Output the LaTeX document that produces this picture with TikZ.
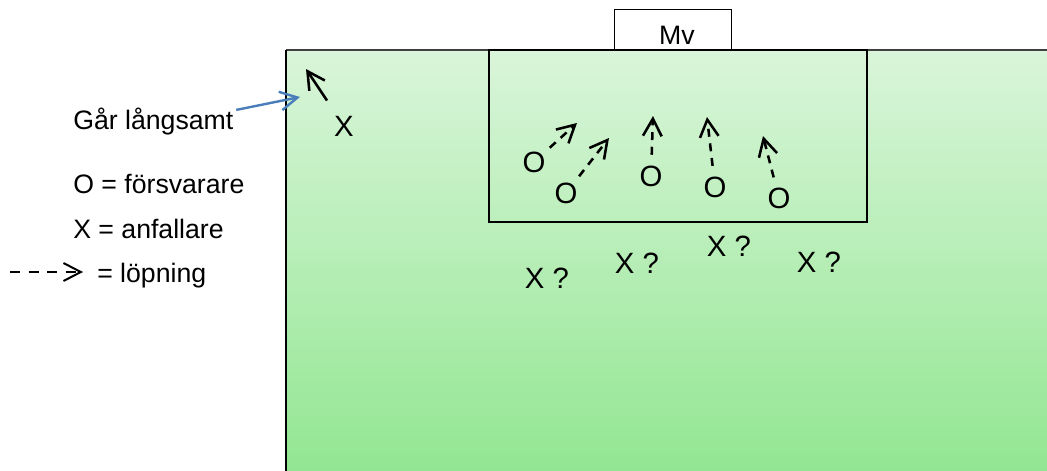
\documentclass[tikz,border=0pt]{standalone}
\usepackage{fontspec}
\setmainfont{Liberation Sans}
\usetikzlibrary{arrows.meta}
\definecolor{fieldtop}{HTML}{DAF5DA}
\definecolor{fieldbottom}{HTML}{92E692}
\definecolor{pilblue}{HTML}{4A7EBB}

\begin{document}
\begin{tikzpicture}[x=0.75pt,y=-0.75pt,font=\fontsize{20}{24}\selectfont, >={Straight Barb[length=13pt,width=14pt]}]
    \tikzstyle{player}=[circle,inner sep=0,minimum size=31.5pt,font=\fontsize{22}{26}\selectfont]
    \tikzstyle{label text}=[anchor=base west,inner sep=0]
    \tikzstyle{run}=[->,line width=1.9pt,dash pattern=on 6pt off 5pt]
    \tikzstyle{walk}=[->,line width=1.9pt]
    \useasboundingbox (0,0) rectangle (1047,471);

    % planen
    \fill[top color=fieldtop,bottom color=fieldbottom] (286,50) rectangle (1047,471);
    \draw[line width=1.4pt,black!75] (1047,50) -- (286,50);
    \draw[line width=1.6pt] (286,50) -- (286,471);
    \draw[line width=0.9pt] (489,50) rectangle (867,222);
    \node(mv)[draw,fill=white,line width=0.9pt,minimum width=87.75pt,minimum height=30pt,anchor=south west] at (614,50) {};
    \node(mvtext)[anchor=base] at (677,45) {Mv};

    \node(gar)[label text] at (73,129) {Går långsamt};
    \node(fors)[label text] at (73,193) {O = försvarare};
    \node(anf)[label text] at (73,238) {X = anfallare};
    \node(lop)[label text] at (97,282) {= löpning};
    \coordinate (l1) at (10,272);
    \coordinate (l2) at (83,272);
    \draw[run,line width=1.5pt,dash pattern=on 7.5pt off 6.4pt,>={Straight Barb[length=13pt,width=13.5pt]}] (l1) -- (l2);

    % anfallare
    \node(x0)[player] at (344,126) {X};
    \coordinate (w0) at (306,69);
    \draw[walk,shorten <=7pt] (x0) -- (w0);
    \coordinate (pil) at (300,97);
    \draw[walk,pilblue,line width=1.8pt] ([xshift=2pt,yshift=-2pt]gar.north east) -- (pil);

    \node(a1)[player,anchor=base] at (547,288) {X ?};
    \node(a2)[player,anchor=base] at (637,273) {X ?};
    \node(a3)[player,anchor=base] at (729,256) {X ?};
    \node(a4)[player,anchor=base] at (819,272) {X ?};

    % försvarare
    \node(o1)[player] at (534,162) {O};
    \node(o2)[player] at (566,193) {O};
    \node(o3)[player] at (651,176) {O};
    \node(o4)[player] at (715,187) {O};
    \node(o5)[player] at (779,198) {O};
    \coordinate (r1) at (577,123);
    \coordinate (r2) at (609,138);
    \coordinate (r3) at (653,116);
    \coordinate (r4) at (707,117);
    \coordinate (r5) at (763,136);
    \foreach \i in {1,...,5}
        \draw[run] (o\i) -- (r\i);
\end{tikzpicture}
\end{document}
